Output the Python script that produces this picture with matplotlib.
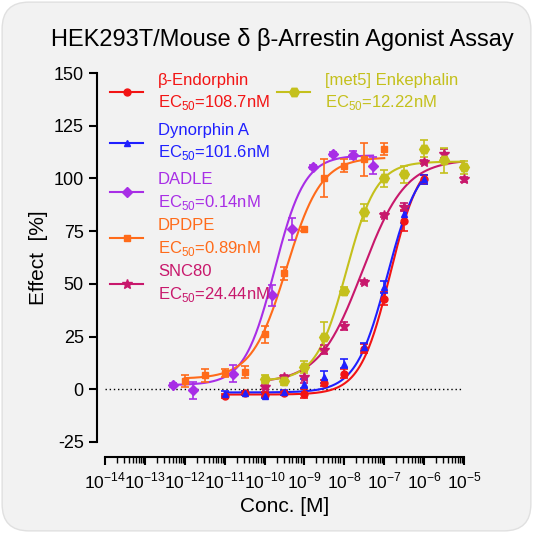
import numpy as np
import matplotlib
matplotlib.use("Agg")
import matplotlib.pyplot as plt
from matplotlib.patches import FancyBboxPatch
from matplotlib.lines import Line2D

plt.rcParams['font.family'] = ['Liberation Sans', 'DejaVu Sans']
plt.rcParams['mathtext.fontset'] = 'custom'
plt.rcParams['mathtext.rm'] = 'Liberation Sans'
plt.rcParams['axes.unicode_minus'] = False

# log10 concentrations
conc_a = np.arange(-11, -5.99, 0.5)   # beta-endorphin, dynorphin
conc_dadle = [-12.3, -11.8, -10.8, -9.82, -9.32, -8.78, -8.28, -7.78, -7.28]
conc_dpdpe = np.arange(-12, -6.99, 0.5)
conc_b = np.arange(-10, -4.99, 0.5)   # met5, SNC80

bend = [-3.3, -1.7, -2.5, -1.7, -2.1, 3, 7.4, 19.3, 43, 80, 99.5]
bend_err = [1, 1, 1, 1, 2, 1.5, 2, 2, 3, 5, 2]
dyn = [-2, -1.7, -3.3, -1.5, 2.7, 5.8, 12.2, 20, 48.5, 83, 99.5]
dyn_err = [1, 1, 1, 1, 2, 3, 2, 2, 3, 4, 2]
dadle = [1.9, -0.5, 7.4, 44.6, 76, 105.5, 111.5, 111, 106]
dadle_err = [1, 4, 4, 5, 5, 1, 1, 2, 4]
dpdpe = [4, 6.6, 7.7, 8.2, 26, 55, 76, 100, 106, 109, 114]
dpdpe_err = [3, 3, 2, 3, 4, 3, 1, 9, 3, 8, 3]
met5 = [5, 4, 10.6, 25, 46.5, 84, 100, 102, 114, 108.6, 105.2]
met5_err = [2, 2, 3, 7, 2, 4, 4, 4, 4, 6, 3]
snc = [1, 6, 5.8, 18.8, 30, 51, 82.5, 86.5, 107.8, 111.8, 99.5]
snc_err = [1, 1, 3, 2, 2, 1, 1, 2, 1, 2, 1]

# fit params: bottom, top, logEC50, hill
fits = {
    'bend': (-2.5, 112, -6.85, 1.15),
    'dyn': (-1.5, 110, -6.92, 1.1),
    'dadle': (2, 111, -9.75, 1.15),
    'dpdpe': (5, 110, -9.45, 1.0),
    'met5': (4, 108, -7.95, 1.15),
    'snc': (3, 109, -7.55, 0.8),
}

labels = ['β-Endorphin', 'Dynorphin A', 'DADLE', 'DPDPE', 'SNC80', '[met5] Enkephalin']
ec50s = ['108.7nM', '101.6nM', '0.14nM', '0.89nM', '24.44nM', '12.22nM']

series = [
    ('bend', conc_a, bend, bend_err, '#f21414', 'o', 5),
    ('dyn', conc_a, dyn, dyn_err, '#1f1fff', '^', 5),
    ('dadle', conc_dadle, dadle, dadle_err, '#a82ee6', 'D', 5),
    ('dpdpe', conc_dpdpe, dpdpe, dpdpe_err, '#ff6b1a', 's', 5),
    ('snc', conc_b, snc, snc_err, '#c8186c', '*', 7),
    ('met5', conc_b, met5, met5_err, '#c4c01c', 'H', 7),
]

fig = plt.figure(figsize=(5.33, 5.33), dpi=100)
fig.patch.set_facecolor('white')
bg = FancyBboxPatch((0.004, 0.004), 0.992, 0.992, boxstyle="round,pad=0,rounding_size=0.05",
                    transform=fig.transFigure, facecolor='#f2f2f2', edgecolor='#e0e0e0', zorder=-10)
fig.patches.append(bg)

ax = fig.add_axes([97/533, 1-442/533, 375/533, 369/533])
ax.set_facecolor('none')

for key, xs, ys, es, col, mk, ms in series:
    b, t, ec, h = fits[key]
    xx = np.linspace(min(xs), max(xs), 300)
    yy = b + (t - b) / (1 + 10 ** ((ec - xx) * h))
    ax.plot(10.0 ** xx, yy, color=col, lw=1.5, zorder=2)
    ax.errorbar(10.0 ** np.array(xs), ys, yerr=es, fmt=mk, color=col, ms=ms,
                capsize=3, elinewidth=1.2, capthick=1.2, zorder=3)

ax.axhline(0, color='black', ls=(0, (1, 2)), lw=1, xmin=0.02, xmax=0.97, zorder=1)

ax.set_xscale('log')
ax.set_xlim(10 ** -14.2, 10 ** -4.8)
ax.set_ylim(-25, 150)
for s in ['top', 'right']:
    ax.spines[s].set_visible(False)
ax.spines['bottom'].set_position(('outward', 11))
ax.spines['bottom'].set_bounds(1e-14, 1e-5)
ax.spines['left'].set_bounds(-25, 150)
ax.spines['left'].set_linewidth(1.5)
ax.spines['bottom'].set_linewidth(1.5)
ax.set_yticks([-25, 0, 25, 50, 75, 100, 125, 150])
ax.set_xticks([10.0 ** k for k in range(-14, -4)])
ax.set_xticklabels([r'10$^{\mathregular{-%d}}$' % -k for k in range(-14, -4)])
minors = [m * 10.0 ** k for k in range(-14, -5) for m in range(2, 10)]
ax.xaxis.set_minor_locator(matplotlib.ticker.FixedLocator(minors))
ax.xaxis.set_minor_formatter(matplotlib.ticker.NullFormatter())
ax.tick_params(axis='both', labelsize=13, width=1.5, length=6)
ax.tick_params(axis='x', labelsize=12.5)
ax.tick_params(axis='x', which='minor', width=1, length=4)
ax.set_xlabel('Conc. [M]', fontsize=15)
ax.set_ylabel('Effect  [%]', fontsize=15)

fig.text(0.53, 0.925, 'HEK293T/Mouse δ β-Arrestin Agonist Assay', fontsize=17, ha='center', va='center')

# legend, manual
def px(x, y):
    return x / 533, 1 - y / 533

entries = [(110, 92), (110, 143), (110, 192), (110, 238), (110, 284), (277, 92)]
for (lx, ly), (key, xs, ys, es, col, mk, ms), lab, ec in zip(entries, series, labels, ec50s):
    x0, y0 = px(lx, ly)
    x1, _ = px(lx + 33, ly)
    fig.add_artist(Line2D([x0, x1], [y0, y0], color=col, lw=1.5, transform=fig.transFigure))
    fig.add_artist(Line2D([(x0 + x1) / 2], [y0], color=col, marker=mk, ms=ms, transform=fig.transFigure))
    tx, ty = px(lx + 48, ly - 12)
    fig.text(tx, ty, lab, color=col, fontsize=12, va='center', ha='left')
    tx, ty = px(lx + 48, ly + 10)
    fig.text(tx, ty, r'EC$_{\mathregular{50}}$=' + ec, color=col, fontsize=12, va='center', ha='left')

fig.savefig('out.png', dpi=100, facecolor=fig.get_facecolor())
